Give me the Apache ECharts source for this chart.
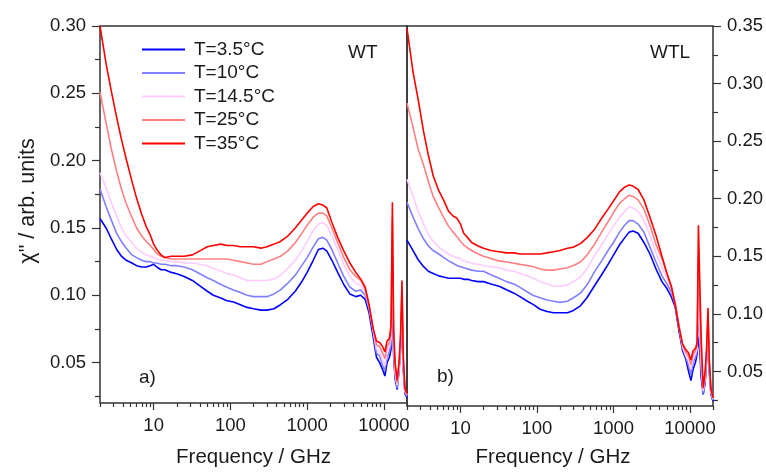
<!DOCTYPE html>
<html><head><meta charset="utf-8">
<script src="https://cdn.jsdelivr.net/npm/echarts@6/dist/echarts.min.js"></script>
<style>html,body{margin:0;padding:0;background:#fff}#c{width:766px;height:473px}</style>
</head><body><div id="c"></div>
<script>
// ---------- data ----------
const freqGHz = [2,2.4,2.8,3.3,3.8,4.4,5.2,6,7,8,9,10,11,12.5,14,17,20,25,32,40,50,60,75,90,110,135,165,200,250,300,370,450,560,700,850,1000,1200,1400,1600,1800,2100,2500,3000,3600,4300,5000,5700,6400,7200,8000,8800,9600,10300,11000,11800,12400,12900,13400,14000,14900,15800,16500,17200,17900,18800,20000];
const seriesNames = ['T=3.5°C','T=10°C','T=14.5°C','T=25°C','T=35°C'];

// panel a) WT
const wt_3_5 = [0.157,0.150,0.142,0.134,0.129,0.126,0.124,0.122,0.121,0.121,
0.122,0.123,0.121,0.119,0.119,0.117,0.116,0.114,0.111,0.107,
0.103,0.100,0.098,0.096,0.095,0.093,0.091,0.090,0.089,0.089,
0.090,0.093,0.097,0.103,0.110,0.117,0.126,0.134,0.135,0.133,
0.126,0.117,0.108,0.101,0.099,0.100,0.097,0.087,0.070,0.054,
0.050,0.045,0.040,0.050,
0.054,0.060,0.100,0.055,0.038,0.030,0.045,0.060,0.085,0.045,0.027,0.024];
const wt_10 = [0.179,0.166,0.156,0.146,0.140,0.135,0.130,0.128,0.126,0.125,
0.125,0.124,0.124,0.123,0.123,0.122,0.122,0.121,0.119,0.116,
0.113,0.111,0.108,0.106,0.104,0.102,0.100,0.099,0.099,0.099,
0.101,0.104,0.109,0.115,0.122,0.128,0.136,0.142,0.143,0.141,
0.134,0.124,0.114,0.106,0.103,0.104,0.100,0.090,0.074,0.057,
0.055,0.048,0.044,0.054,
0.058,0.064,0.120,0.060,0.040,0.031,0.046,0.062,0.092,0.047,0.028,0.025];
const wt_14_5 = [0.191,0.180,0.169,0.159,0.150,0.144,0.139,0.135,0.132,0.130,
0.129,0.128,0.127,0.126,0.126,0.125,0.125,0.124,0.124,0.123,
0.122,0.120,0.118,0.116,0.115,0.113,0.111,0.111,0.111,0.111,
0.112,0.115,0.120,0.126,0.133,0.140,0.148,0.153,0.154,0.152,
0.144,0.134,0.123,0.114,0.109,0.107,0.103,0.092,0.075,0.060,
0.058,0.052,0.048,0.058,
0.062,0.068,0.140,0.065,0.043,0.033,0.047,0.065,0.098,0.049,0.029,0.026];
const wt_25 = [0.251,0.228,0.209,0.192,0.179,0.168,0.158,0.150,0.144,0.140,
0.137,0.134,0.131,0.129,0.128,0.127,0.127,0.127,0.127,0.127,
0.127,0.127,0.127,0.127,0.126,0.125,0.124,0.123,0.123,0.125,
0.127,0.129,0.133,0.139,0.146,0.152,0.158,0.161,0.161,0.159,
0.150,0.139,0.128,0.119,0.114,0.111,0.105,0.093,0.076,0.063,
0.062,0.057,0.053,0.062,
0.065,0.072,0.155,0.068,0.046,0.035,0.049,0.068,0.104,0.051,0.030,0.026];
const wt_35 = [0.300,0.272,0.252,0.232,0.216,0.201,0.185,0.172,0.160,0.151,
0.145,0.138,0.134,0.130,0.128,0.129,0.129,0.129,0.130,0.133,
0.136,0.137,0.138,0.137,0.137,0.136,0.136,0.136,0.135,0.136,
0.138,0.140,0.144,0.150,0.156,0.161,0.166,0.168,0.167,0.165,
0.154,0.143,0.133,0.124,0.117,0.112,0.106,0.093,0.076,0.066,
0.065,0.062,0.058,0.066,
0.068,0.078,0.169,0.075,0.050,0.037,0.051,0.072,0.111,0.055,0.031,0.027];

// panel b) WTL
const wtl_3_5 = [0.164,0.155,0.147,0.141,0.137,0.135,0.133,0.132,0.131,0.131,
0.131,0.131,0.130,0.130,0.129,0.128,0.128,0.126,0.124,0.121,
0.118,0.115,0.111,0.108,0.104,0.102,0.101,0.101,0.101,0.103,
0.107,0.114,0.124,0.134,0.143,0.151,0.160,0.166,0.171,0.172,
0.170,0.162,0.152,0.139,0.128,0.122,0.115,0.106,0.085,0.068,
0.061,0.050,0.042,0.052,
0.058,0.065,0.080,0.070,0.045,0.030,0.040,0.060,0.080,0.050,0.030,0.024];
const wtl_10 = [0.197,0.184,0.174,0.165,0.159,0.155,0.152,0.149,0.146,0.144,
0.142,0.141,0.140,0.139,0.138,0.137,0.137,0.134,0.131,0.128,
0.126,0.123,0.119,0.116,0.114,0.112,0.111,0.110,0.111,0.114,
0.118,0.125,0.136,0.146,0.155,0.162,0.171,0.177,0.181,0.181,
0.178,0.171,0.158,0.145,0.133,0.126,0.119,0.108,0.088,0.070,
0.063,0.055,0.047,0.058,
0.062,0.068,0.100,0.080,0.052,0.031,0.042,0.062,0.085,0.052,0.031,0.025];
const wtl_14_5 = [0.217,0.202,0.189,0.178,0.169,0.163,0.158,0.155,0.152,0.150,
0.149,0.148,0.146,0.145,0.144,0.143,0.142,0.141,0.140,0.138,
0.137,0.135,0.133,0.131,0.128,0.126,0.124,0.124,0.125,0.128,
0.132,0.139,0.150,0.160,0.169,0.176,0.184,0.189,0.193,0.192,
0.189,0.181,0.168,0.153,0.140,0.131,0.122,0.109,0.089,0.072,
0.064,0.059,0.052,0.062,
0.065,0.070,0.120,0.090,0.058,0.033,0.045,0.064,0.090,0.055,0.032,0.026];
const wtl_25 = [0.283,0.262,0.243,0.229,0.215,0.202,0.192,0.184,0.176,0.171,
0.167,0.163,0.160,0.157,0.155,0.152,0.150,0.148,0.146,0.145,
0.144,0.143,0.142,0.141,0.139,0.138,0.138,0.139,0.140,0.142,
0.145,0.151,0.160,0.171,0.180,0.188,0.196,0.200,0.203,0.202,
0.199,0.191,0.177,0.160,0.148,0.135,0.124,0.110,0.090,0.073,
0.067,0.063,0.056,0.065,
0.068,0.072,0.150,0.110,0.065,0.035,0.048,0.067,0.098,0.058,0.034,0.027];
const wtl_35 = [0.348,0.310,0.286,0.258,0.238,0.220,0.207,0.199,0.189,0.185,
0.183,0.178,0.170,0.166,0.162,0.159,0.157,0.155,0.154,0.153,
0.153,0.152,0.152,0.152,0.152,0.153,0.154,0.155,0.157,0.158,
0.161,0.166,0.173,0.183,0.191,0.198,0.206,0.210,0.212,0.211,
0.208,0.199,0.184,0.168,0.150,0.135,0.124,0.108,0.088,0.074,
0.069,0.066,0.060,0.068,
0.070,0.075,0.177,0.131,0.080,0.036,0.050,0.070,0.105,0.060,0.035,0.027];

// tick labels
const xTickLabels = [10, 100, 1000, 10000];
const yTicksWT = [0.05, 0.10, 0.15, 0.20, 0.25, 0.30];
const yTicksWTL = [0.05, 0.10, 0.15, 0.20, 0.25, 0.30, 0.35];

// ---------- styling / layout ----------
const colors = ['#0000ff', '#8080ff', '#ffccff', '#ff8080', '#ff0000'];
const FONT = '"Liberation Sans", Arial, sans-serif';
const AX = '#333333';
const TXT = '#1a1a1a';
const X_MIN = 2, X_MAX = 20000;

const lg = Math.log10;
const majorLog = xTickLabels.map(v => lg(v));
const minorLog = [];
for (let e = 0; e <= 4; e++) for (let k = 2; k <= 9; k++) {
  const v = k * Math.pow(10, e);
  if (v >= X_MIN - 1e-9 && v <= X_MAX + 1e-9) minorLog.push(lg(v));
}
const yMinorWT = yTicksWT.map(v => +(v - 0.025).toFixed(3));
const yMinorWTL = yTicksWTL.map(v => +(v - 0.025).toFixed(3));

const panels = [
  { left: 100, sets: [wt_3_5, wt_10, wt_14_5, wt_25, wt_35], yMax: 0.30, yTicks: yTicksWT, yMinor: yMinorWT, yPos: 'left' },
  { left: 407, sets: [wtl_3_5, wtl_10, wtl_14_5, wtl_25, wtl_35], yMax: 0.35, yTicks: yTicksWTL, yMinor: yMinorWTL, yPos: 'right' }
];

const grid = panels.map(p => ({ left: p.left, top: 26, width: 307, height: 382, show: true, borderColor: AX, borderWidth: 1.5, backgroundColor: 'transparent' }));

const xAxis = [];
const yAxis = [];
const series = [];
panels.forEach((p, gi) => {
  xAxis.push({
    gridIndex: gi, type: 'log', logBase: 10, min: X_MIN, max: X_MAX, position: 'bottom',
    axisLine: { show: false }, axisTick: { show: false }, splitLine: { show: false },
    axisLabel: {
      showMinLabel: false, showMaxLabel: false, margin: 13,
      fontSize: 18.5, fontFamily: FONT, color: TXT,
      formatter: v => (xTickLabels.indexOf(Math.round(v)) >= 0 && Math.abs(v - Math.round(v)) < 1e-6) ? String(Math.round(v)) : ''
    },
    name: 'Frequency / GHz', nameLocation: 'middle', nameGap: gi === 0 ? 44 : 41,
    nameTextStyle: { fontSize: 20.5, fontFamily: FONT, color: TXT, padding: gi === 0 ? 0 : [0, 14, 0, 0] }
  });
  const mainX = xAxis.length - 1;
  [[majorLog, 7], [minorLog, 4]].forEach(([vals, len]) => {
    xAxis.push({
      gridIndex: gi, type: 'value', min: lg(X_MIN), max: lg(X_MAX), position: 'bottom',
      axisLine: { show: false }, splitLine: { show: false }, axisLabel: { show: false },
      axisTick: { show: true, length: len, customValues: vals, lineStyle: { color: AX, width: 1.2 } }
    });
  });
  yAxis.push({
    gridIndex: gi, type: 'value', min: 0.02, max: p.yMax, position: p.yPos,
    axisLine: { show: false }, splitLine: { show: false },
    axisTick: { show: true, length: 8, customValues: p.yTicks, lineStyle: { color: AX, width: 1.2 } },
    axisLabel: { customValues: p.yTicks, formatter: v => v.toFixed(2), margin: 14, fontSize: 18.5, fontFamily: FONT, color: TXT }
  });
  const mainY = yAxis.length - 1;
  yAxis.push({
    gridIndex: gi, type: 'value', min: 0.02, max: p.yMax, position: p.yPos,
    axisLine: { show: false }, splitLine: { show: false }, axisLabel: { show: false },
    axisTick: { show: true, length: 5, customValues: p.yMinor, lineStyle: { color: AX, width: 1.2 } }
  });
  p.sets.forEach((vals, si) => {
    series.push({
      type: 'line', name: seriesNames[si], xAxisIndex: mainX, yAxisIndex: mainY,
      data: freqGHz.map((f, i) => [f, vals[i]]),
      showSymbol: false, symbol: 'none', smooth: false, animation: false,
      lineStyle: { color: colors[si], width: 1.6 }, itemStyle: { color: colors[si] },
      z: 2 + si
    });
  });
});

const chart = echarts.init(document.getElementById('c'), null, { renderer: 'canvas' });
chart.setOption({
  animation: false,
  backgroundColor: '#ffffff',
  color: colors,
  grid, xAxis, yAxis, series,
  legend: {
    data: seriesNames, orient: 'vertical', left: 137, top: 35,
    icon: 'rect', itemWidth: 43, itemHeight: 2, itemGap: 4.5,
    textStyle: { fontSize: 19, lineHeight: 19, fontFamily: FONT, color: TXT, padding: [0, 0, 0, 4] }
  },
  graphic: [
    { type: 'text', x: 348, y: 52.5, style: { text: 'WT', fontSize: 19, fontFamily: FONT, fill: TXT, verticalAlign: 'middle' } },
    { type: 'text', x: 650, y: 52.5, style: { text: 'WTL', fontSize: 19, fontFamily: FONT, fill: TXT, verticalAlign: 'middle' } },
    { type: 'text', x: 139, y: 378, style: { text: 'a)', fontSize: 19, fontFamily: FONT, fill: TXT, verticalAlign: 'middle' } },
    { type: 'text', x: 437, y: 377, style: { text: 'b)', fontSize: 19, fontFamily: FONT, fill: TXT, verticalAlign: 'middle' } },
    { type: 'text', x: 28, y: 201, rotation: Math.PI / 2, style: { text: 'χ" / arb. units', fontSize: 21.5, fontFamily: FONT, fill: TXT, align: 'center', verticalAlign: 'middle' } }
  ]
});
</script></body></html>
